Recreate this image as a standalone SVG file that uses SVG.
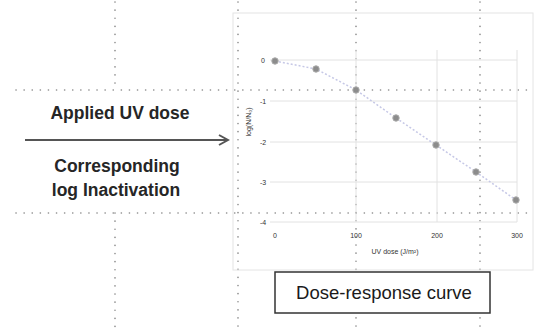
<svg xmlns="http://www.w3.org/2000/svg" width="536" height="331" viewBox="0 0 536 331">
<defs>
<style>
.guide{stroke:#8a8a8a;stroke-width:1.6;stroke-dasharray:0.1 8;stroke-linecap:round;fill:none}
.grid{stroke:#e2e2e2;stroke-width:1;fill:none}
.frame{stroke:#e4e4e4;stroke-width:1;fill:none}
.tick{font-family:"Liberation Sans",Arial,sans-serif;font-size:7px;fill:#333;text-anchor:middle}
.pt{fill:#8c8c8c;stroke:#aaaaaa;stroke-width:1}
.big{font-family:"Liberation Sans",Arial,sans-serif;font-size:17.5px;font-weight:bold;fill:#262626;text-anchor:middle}
</style>
<marker id="arr" markerWidth="12" markerHeight="12" refX="10" refY="6" orient="auto" markerUnits="userSpaceOnUse">
<path d="M1,1 L10,6 L1,11" fill="none" stroke="#555" stroke-width="2"/>
</marker>
</defs>
<rect width="536" height="331" fill="#ffffff"/>
<g id="guides">
<line class="guide" x1="16" y1="90" x2="532" y2="90"/>
<line class="guide" x1="16" y1="213" x2="532" y2="213"/>
<line class="guide" x1="115" y1="2" x2="115" y2="90"/>
<line class="guide" x1="115" y1="213" x2="115" y2="329"/>
<line class="guide" x1="238" y1="2" x2="238" y2="329"/>
<line class="guide" x1="356" y1="2" x2="356" y2="329"/>
<line class="guide" x1="480" y1="2" x2="480" y2="329"/>
</g>
<g id="chart">
<rect class="frame" x="233" y="13" width="300" height="257"/>
<g class="grid">
<line x1="270" y1="60" x2="517" y2="60"/>
<line x1="270" y1="101" x2="517" y2="101"/>
<line x1="270" y1="142" x2="517" y2="142"/>
<line x1="270" y1="182" x2="517" y2="182"/>
<line x1="270" y1="222" x2="517" y2="222"/>
<line x1="356" y1="50" x2="356" y2="222"/>
<line x1="437" y1="50" x2="437" y2="222"/>
<line x1="517" y1="50" x2="517" y2="222"/>
</g>
<text class="tick" x="263" y="63">0</text>
<text class="tick" x="263" y="104">-1</text>
<text class="tick" x="263" y="145">-2</text>
<text class="tick" x="263" y="185">-3</text>
<text class="tick" x="263" y="225">-4</text>
<text class="tick" x="275" y="238">0</text>
<text class="tick" x="356" y="238">100</text>
<text class="tick" x="437" y="238">200</text>
<text class="tick" x="517" y="238">300</text>
<text class="tick" x="395" y="254">UV dose (J/m²)</text>
<text class="tick" transform="translate(251,122) rotate(-90)">log(N/N₀)</text>
<polyline points="275,61 316,69 356,90 396,118 436,145 476,172 516,200" fill="none" stroke="#c6c8e6" stroke-width="1.5" stroke-dasharray="2 2"/>
<circle class="pt" cx="275" cy="61" r="3.2"/>
<circle class="pt" cx="316" cy="69" r="3.2"/>
<circle class="pt" cx="356" cy="90" r="3.2"/>
<circle class="pt" cx="396" cy="118" r="3.2"/>
<circle class="pt" cx="436" cy="145" r="3.2"/>
<circle class="pt" cx="476" cy="172" r="3.2"/>
<circle class="pt" cx="516" cy="200" r="3.2"/>
</g>
<g id="connectors">
<line x1="25" y1="140" x2="228" y2="140" stroke="#555" stroke-width="2" marker-end="url(#arr)"/>
</g>
<g id="input-labels">
<text class="big" x="120" y="119">Applied UV dose</text>
<text class="big" x="117" y="172">Corresponding</text>
<text class="big" x="116" y="196">log Inactivation</text>
</g>
<g id="dose-response-curve">
<rect x="275" y="272" width="215" height="41" fill="#ffffff" stroke="#333" stroke-width="1.5"/>
<text x="384" y="299" font-family="'Liberation Sans',Arial,sans-serif" font-size="18.5" fill="#1a1a1a" text-anchor="middle">Dose-response curve</text>
</g>
</svg>
